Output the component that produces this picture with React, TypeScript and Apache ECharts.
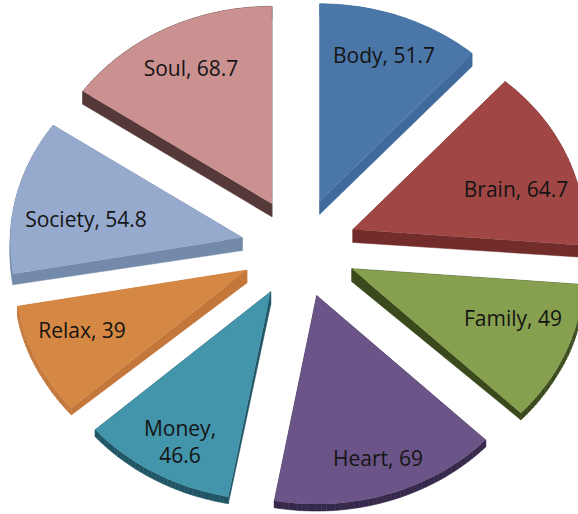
import React, { useEffect, useRef } from "react";
import * as echarts from "echarts";

const categories = ["Body", "Brain", "Family", "Heart", "Money", "Relax", "Society", "Soul"];
const values = [51.7, 64.7, 49, 69, 46.6, 39, 54.8, 68.7];
const labelTexts = ["Body, 51.7", "Brain, 64.7", "Family, 49", "Heart, 69", "Money,\n46.6", "Relax, 39", "Society, 54.8", "Soul, 68.7"];

const topColors = ["#4A76A8", "#A04745", "#86A04F", "#6B5488", "#4395AB", "#D58843", "#96AACE", "#CB9191"];
const sideColors = ["#406A9B", "#722D2B", "#3A4A1C", "#35284A", "#1F5565", "#C4773A", "#748AAA", "#553838"];
const labelAnchors = [[384, 55], [516, 189], [513, 318], [378, 458], [180, 441], [82, 330], [86, 219], [191, 68]];

const CX = 299, CY = 248, EXPLODE_X = 58, EXPLODE_Y = 50, RX = 232, RY = 203, DEPTH = 13;
const total = values.reduce((a, b) => a + b, 0);

function project(theta: number): [number, number] {
  const s = Math.sin(theta), c = Math.cos(theta);
  return [RX * s * (1 - 0.025 * c), -RY * c * (1 - 0.027 * c)];
}
function outerDepth(theta: number) {
  const c = Math.cos(theta);
  return DEPTH - 6 * Math.min(1, Math.max(0, -c * 2));
}

function renderItem(params: any) {
  const i = params.dataIndex;
  let before = 0;
  for (let k = 0; k < i; k++) before += values[k];
  const a0 = (before / total) * Math.PI * 2;
  const a1 = ((before + values[i]) / total) * Math.PI * 2;
  const mid = (a0 + a1) / 2;
  const tx = CX + EXPLODE_X * Math.sin(mid);
  const ty = CY - EXPLODE_Y * Math.cos(mid);

  const top: number[][] = [[tx, ty]];
  const bottom: number[][] = [[tx, ty + DEPTH]];
  const steps = Math.ceil((a1 - a0) / 0.02);
  for (let k = 0; k <= steps; k++) {
    const t = a0 + ((a1 - a0) * k) / steps;
    const [px, py] = project(t);
    top.push([tx + px, ty + py]);
    bottom.push([tx + px, ty + py + outerDepth(t)]);
  }
  const children: any[] = [];
  const side = sideColors[i];
  for (let k = 0; k < top.length; k++) {
    const n = (k + 1) % top.length;
    children.push({
      type: "polygon",
      shape: { points: [top[k], top[n], bottom[n], bottom[k]] },
      style: { fill: side, stroke: side, lineWidth: 0.5 },
      silent: true,
    });
  }
  children.push({
    type: "polygon",
    shape: { points: top },
    style: { fill: topColors[i] },
    silent: true,
  });
  children.push({
    type: "text",
    x: labelAnchors[i][0],
    y: labelAnchors[i][1],
    style: {
      text: labelTexts[i],
      fill: "#141414",
      font: '21px "Open Sans"',
      align: "center",
      verticalAlign: "middle",
      lineHeight: 27,
    },
    silent: true,
  });
  return { type: "group", children };
}

export default function App() {
  const ref = useRef<HTMLDivElement>(null);
  useEffect(() => {
    document.body.style.margin = "0";
    const chart = echarts.init(ref.current!, undefined, { renderer: "svg" });
    chart.setOption({
      animation: false,
      backgroundColor: "#FFFFFF",
      series: [
        {
          type: "custom",
          coordinateSystem: "none",
          renderItem,
          data: categories.map((name, i) => ({ name, value: values[i] })),
        },
      ],
    });
    return () => chart.dispose();
  }, []);
  return <div ref={ref} style={{ width: 578, height: 514, overflow: "hidden" }} />;
}
